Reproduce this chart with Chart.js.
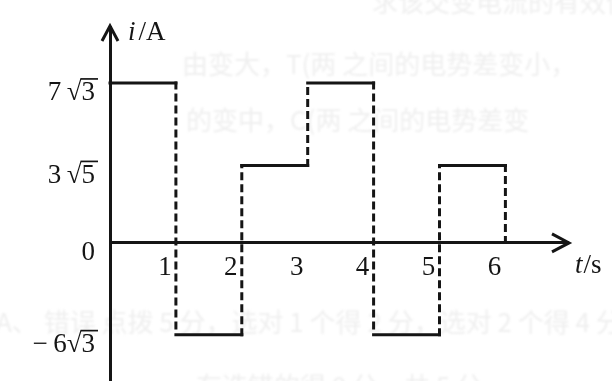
<!DOCTYPE html>
<html>
<head>
<meta charset="utf-8">
<script src="https://cdn.jsdelivr.net/npm/chart.js@4"></script>
<style>
  html, body { margin: 0; padding: 0; background: #fff; }
  #hoja { position: relative; width: 612px; height: 381px; overflow: hidden; background: #fff; }
  .calco { position: absolute; white-space: nowrap; color: #efefef; font: 26px "Noto Sans CJK SC"; filter: blur(0.9px); }
  #grafico { position: absolute; left: 0; top: 0; }
</style>
</head>
<body>
<div id="hoja">
  <!-- texto de la otra cara de la hoja, apenas visible -->
  <div class="calco" style="left:372px; top:-18px;">求该交变电流的有效值。</div>
  <div class="calco" style="left:182px; top:44px;">由变大，T(两 之间的电势差变小，</div>
  <div class="calco" style="left:186px; top:100px;">的变中，C(两 之间的电势差变</div>
  <div class="calco" style="left:-4px; top:302px;">A、 错误 点拨 5 分，选对 1 个得 2 分，选对 2 个得 4 分</div>
  <div class="calco" style="left:196px; top:366px;">有选错的得 0 分，共 5 分</div>
  <canvas id="grafico" width="612" height="381"></canvas>
</div>
<script>
const raiz3 = Math.sqrt(3);
const raiz5 = Math.sqrt(5);

// Instantes de cambio (s) y corriente en cada tramo (A)
const tiempos = [0, 1, 2, 3, 4, 5, 6];
const corrientes = [7 * raiz3, -6 * raiz3, 3 * raiz5, 7 * raiz3, -6 * raiz3, 3 * raiz5];
const corrienteFinal = 0;

// Marcas de los ejes
const ticksT = [1, 2, 3, 4, 5, 6];
const ticksI = [7 * raiz3, 3 * raiz5, 0, -6 * raiz3];
const etiquetasI = ["7\u2009√3", "3\u2009√5", "0", "−\u20096√3"];

// El eje i no va a escala: altura (0 abajo, 1 arriba) de cada marca
const alturasI = [0.842, 0.609, 0.390, 0.131];
const iMin = -14;
const iMax = 16;

const fuente = { family: '"Liberation Serif", "DejaVu Serif", serif', size: 27 };
const negro = "#151515";

// Escala lineal por tramos: cada marca cae a la altura indicada
class EscalaTramos extends Chart.LinearScale {
  static id = "tramos";
  static defaults = {};

  nodos() {
    const pares = ticksI.map((v, k) => [v, alturasI[k]]);
    pares.push([iMin, 0], [iMax, 1]);
    pares.sort((a, b) => a[0] - b[0]);
    return pares;
  }

  getPixelForValue(value) {
    if (value === null || isNaN(value)) return NaN;
    const n = this.nodos();
    let k = 1;
    while (k < n.length - 1 && value > n[k][0]) k++;
    const a = n[k - 1], b = n[k];
    const d = a[1] + ((value - a[0]) / (b[0] - a[0])) * (b[1] - a[1]);
    return this.getPixelForDecimal(d);
  }

  getValueForPixel(pixel) {
    const n = this.nodos();
    const d = this.getDecimalForPixel(pixel);
    let k = 1;
    while (k < n.length - 1 && d > n[k][1]) k++;
    const a = n[k - 1], b = n[k];
    return a[0] + ((d - a[1]) / (b[1] - a[1])) * (b[0] - a[0]);
  }
}
Chart.register(EscalaTramos);

// Tramos horizontales (continuos) y saltos verticales (a trazos), separados por null
let tramos = [];
let saltos = [];
for (let i = 0; i < corrientes.length; i++) {
  tramos.push({ x: tiempos[i], y: corrientes[i] });
  tramos.push({ x: tiempos[i + 1], y: corrientes[i] });
  tramos.push({ x: tiempos[i + 1], y: null });

  const siguiente = i + 1 < corrientes.length ? corrientes[i + 1] : corrienteFinal;
  saltos.push({ x: tiempos[i + 1], y: corrientes[i] });
  saltos.push({ x: tiempos[i + 1], y: siguiente });
  saltos.push({ x: tiempos[i + 1], y: null });
}

// Flechas de los ejes, títulos y barra de las raíces
const ejes = {
  id: "ejes",
  afterDraw(chart) {
    const { ctx, chartArea } = chart;
    const escI = chart.scales.y;
    const y0 = escI.getPixelForValue(0);
    const x0 = chartArea.left;
    ctx.save();
    ctx.strokeStyle = negro;
    ctx.fillStyle = negro;
    ctx.lineWidth = 3;
    ctx.lineJoin = "miter";

    ctx.beginPath();
    ctx.moveTo(x0 - 8, chartArea.top + 14);
    ctx.lineTo(x0, chartArea.top - 1);
    ctx.lineTo(x0 + 8, chartArea.top + 14);
    ctx.stroke();

    ctx.beginPath();
    ctx.moveTo(chartArea.right - 16, y0 - 9);
    ctx.lineTo(chartArea.right + 1, y0);
    ctx.lineTo(chartArea.right - 16, y0 + 9);
    ctx.stroke();

    const normal = fuente.size + "px " + fuente.family;
    const cursiva = "italic " + normal;
    ctx.textBaseline = "alphabetic";
    ctx.textAlign = "left";

    let x = x0 + 18;
    ctx.font = cursiva;
    ctx.fillText("i", x, 40);
    x += ctx.measureText("i").width + 3;
    ctx.font = normal;
    ctx.fillText("/A", x, 40);

    x = chartArea.right + 7;
    ctx.font = cursiva;
    ctx.fillText("t", x, 273);
    x += ctx.measureText("t").width + 1;
    ctx.font = normal;
    ctx.fillText("/s", x, 273);

    // barra superior de √
    ctx.font = normal;
    ctx.textBaseline = "middle";
    ctx.lineWidth = 1.7;
    const der = escI.right - escI.options.ticks.padding;
    escI.ticks.forEach((t) => {
      const txt = String(t.label);
      const p = txt.indexOf("√");
      if (p < 0) return;
      const yc = escI.getPixelForValue(t.value) + escI.options.ticks.labelOffset;
      const alto = ctx.measureText("√").actualBoundingBoxAscent;
      const ancho = ctx.measureText(txt.slice(p + 1)).width;
      ctx.beginPath();
      ctx.moveTo(der - ancho - 1, yc - alto + 0.9);
      ctx.lineTo(der + 3, yc - alto + 0.9);
      ctx.stroke();
    });
    ctx.restore();
  },
};

new Chart(document.getElementById("grafico"), {
  type: "line",
  data: {
    datasets: [
      {
        label: "tramos",
        data: tramos,
        borderColor: negro,
        borderWidth: 3,
        borderCapStyle: "square",
        pointRadius: 0,
        tension: 0,
        spanGaps: false,
        clip: false,
      },
      {
        label: "saltos",
        data: saltos,
        borderColor: negro,
        borderWidth: 3,
        borderDash: [5, 7],
        borderCapStyle: "square",
        pointRadius: 0,
        tension: 0,
        spanGaps: false,
        clip: false,
      },
    ],
  },
  options: {
    responsive: false,
    animation: false,
    events: [],
    layout: { padding: { top: 27, right: 44, bottom: 0, left: 0 } },
    plugins: { legend: { display: false }, tooltip: { enabled: false } },
    scales: {
      x: {
        type: "linear",
        position: { y: 0 },
        min: 0,
        max: 6.95,
        grid: { display: false, drawTicks: false },
        border: { display: true, color: negro, width: 3 },
        afterFit: (s) => {
          s.height = 0;
          s.paddingLeft = 0;
          s.paddingRight = 0;
        },
        afterBuildTicks: (s) => { s.ticks = ticksT.map((v) => ({ value: v })); },
        ticks: {
          color: negro,
          font: fuente,
          padding: 9,
          labelOffset: -11,
          maxRotation: 0,
          autoSkip: false,
          callback: (v) => String(v),
        },
      },
      y: {
        type: "tramos",
        position: "left",
        min: iMin,
        max: iMax,
        grid: { display: false, drawTicks: false },
        border: { display: true, color: negro, width: 3 },
        afterFit: (s) => {
          s.width = 110;
          s.paddingTop = 0;
          s.paddingBottom = 0;
        },
        afterBuildTicks: (s) => { s.ticks = ticksI.map((v) => ({ value: v })); },
        ticks: {
          color: negro,
          font: fuente,
          padding: 15,
          labelOffset: 10,
          autoSkip: false,
          callback: (v) => etiquetasI[ticksI.indexOf(v)],
        },
      },
    },
  },
  plugins: [ejes],
});
</script>
</body>
</html>
